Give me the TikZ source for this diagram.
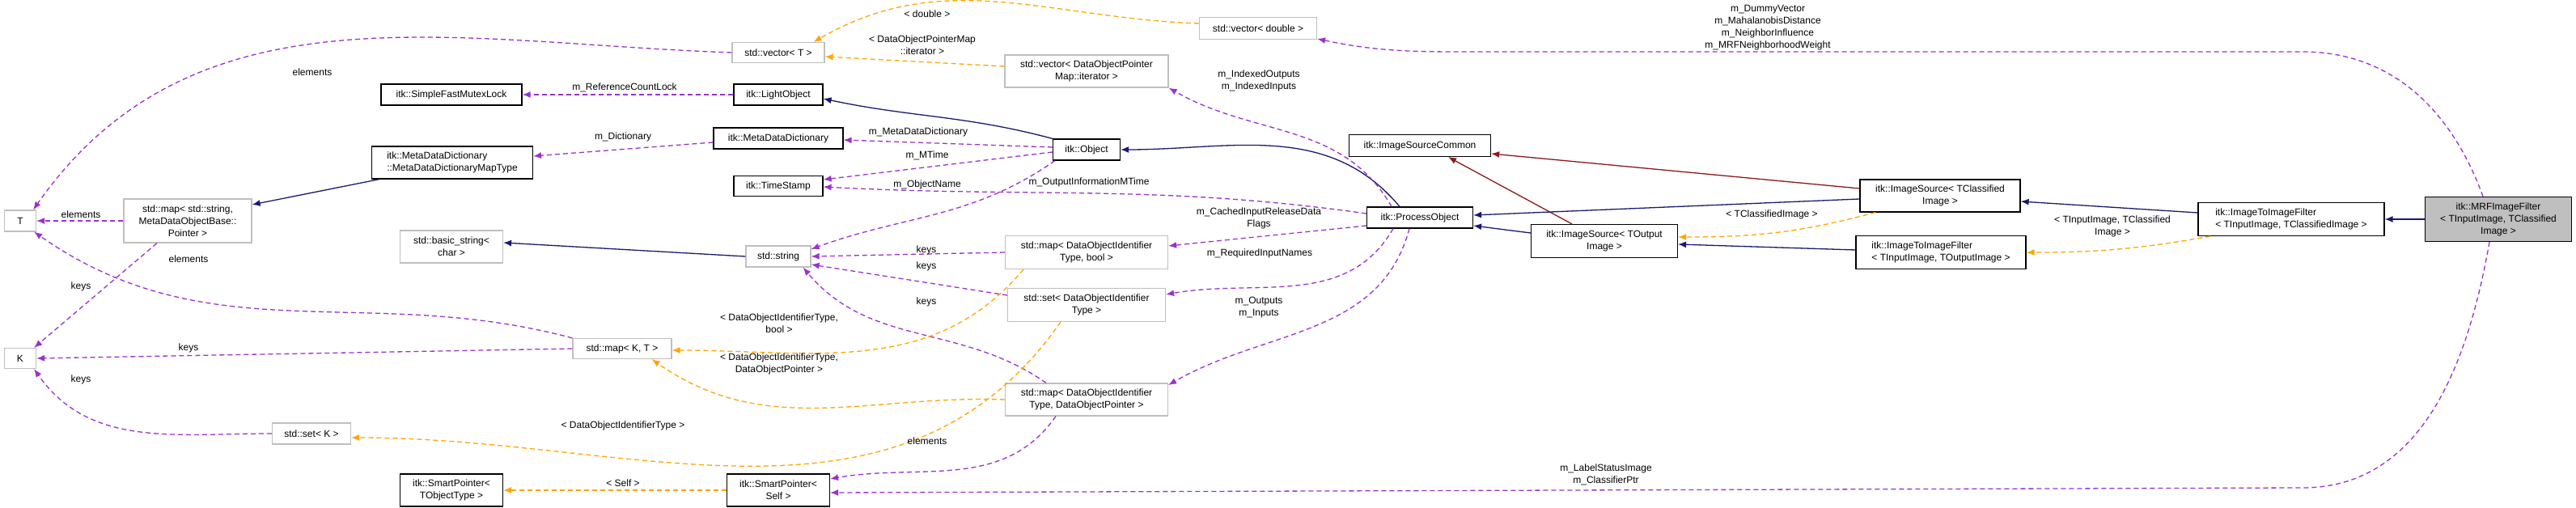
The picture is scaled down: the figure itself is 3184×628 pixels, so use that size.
\documentclass[tikz,border=0pt]{standalone}
\usepackage{fontspec}
\setmainfont{Liberation Sans}
\usetikzlibrary{arrows.meta}
\definecolor{pur}{HTML}{9A32CD}
\definecolor{org}{HTML}{FFA500}
\definecolor{nav}{HTML}{191970}
\definecolor{drd}{HTML}{8B1A1A}
\definecolor{gbd}{gray}{0.75}
\begin{document}
\begin{tikzpicture}[x=1pt,y=-1pt,
  every node/.style={font=\fontsize{12}{15}\selectfont, inner sep=1pt, align=center},
  doc/.style={draw=black, line width=1.2pt, fill=white},
  std/.style={draw=gbd, line width=1.2pt, fill=white},
  tip/.style={-{Latex[length=10pt,width=8pt]}},
  pe/.style={draw=pur, line width=1.3pt, dash pattern=on 6pt off 4pt, tip},
  oe/.style={draw=org, line width=1.3pt, dash pattern=on 6pt off 4pt, tip},
  ne/.style={draw=nav, line width=1.3pt, tip},
  re/.style={draw=drd, line width=1.3pt, tip},
  lb/.style={fill=none}]
\useasboundingbox (0,0) rectangle (3184,628);
\newcommand\bx[7]{\node[#6, minimum width=#4pt, minimum height=#5pt] (#1) at (#2,#3) {#7};}
\bx{vT}{962}{65}{114}{25}{std}{std::vector< T >}
\bx{sfml}{558}{117}{174}{26}{doc}{itk::SimpleFastMutexLock}
\bx{lo}{962}{117}{110}{26}{doc}{itk::LightObject}
\bx{mdd}{962}{171}{160}{26}{doc}{itk::MetaDataDictionary}
\bx{mdmt}{559}{201}{199}{40}{doc,align=left}{itk::MetaDataDictionary\\::MetaDataDictionaryMapType}
\bx{ts}{962}{230}{110}{25}{doc}{itk::TimeStamp}
\bx{T}{25}{273}{39}{26}{std}{T}
\bx{mss}{232}{273}{158}{54}{std}{std::map< std::string,\\ MetaDataObjectBase::\\Pointer >}
\bx{bs}{558}{305}{127}{40}{std}{std::basic\_string<\\char >}
\bx{ss}{962}{317}{80}{26}{std}{std::string}
\bx{K}{25}{443}{39}{25}{std}{K}
\bx{mKT}{769}{431}{122}{25}{std}{std::map< K, T >}
\bx{sK}{385}{536}{97}{26}{std}{std::set< K >}
\bx{spT}{558}{606}{127}{40}{doc}{itk::SmartPointer<\\ TObjectType >}
\bx{spS}{962}{606}{127}{40}{doc}{itk::SmartPointer<\\ Self >}
\bx{vd}{1555}{35}{145}{27}{std}{std::vector< double >}
\bx{vit}{1343}{88}{202}{40}{std}{std::vector< DataObjectPointer\\Map::iterator >}
\bx{obj}{1343}{185}{83}{26}{doc}{itk::Object}
\bx{isc}{1755}{180}{175}{27}{doc}{itk::ImageSourceCommon}
\bx{po}{1755}{269}{131}{26}{doc}{itk::ProcessObject}
\bx{iso}{1983}{298}{181}{41}{doc}{itk::ImageSource< TOutput\\Image >}
\bx{mb}{1343}{312}{201}{41}{std}{std::map< DataObjectIdentifier\\Type, bool >}
\bx{sd}{1343}{377}{195}{41}{std}{std::set< DataObjectIdentifier\\Type >}
\bx{md}{1343}{494}{201}{40}{std}{std::map< DataObjectIdentifier\\Type, DataObjectPointer >}
\bx{isic}{2398}{242}{198}{40}{doc}{itk::ImageSource< TClassified\\Image >}
\bx{itio}{2399}{312}{210}{41}{doc,align=left}{itk::ImageToImageFilter\\< TInputImage, TOutputImage >}
\bx{itic}{2832}{271}{230}{41}{doc,align=left}{itk::ImageToImageFilter\\< TInputImage, TClassifiedImage >}
\bx{mrf}{3088}{271}{181}{55}{doc,fill=gbd}{itk::MRFImageFilter\\< TInputImage, TClassified\\Image >}
% coordinates for long routes
\coordinate (u1) at (2846,64); \coordinate (u2) at (1836,64);
\coordinate (d1) at (2846,603);
% edges
\draw[pe] (vT.west) to[out=178,in=55] ([xshift=-4pt]T.north east);
\draw[pe] (lo.west) -- (sfml.east);
\draw[pe] ([yshift=-5pt]mdd.west) -- ([yshift=8pt]mdmt.east);
\draw[ne] ([xshift=10pt]mdmt.south west) -- ([yshift=20pt]mss.east);
\draw[pe] (mss.west) -- (T.east);
\draw[pe] ([xshift=-38pt]mss.south) -- ([xshift=-3pt]K.north east);
\draw[pe] (mKT.north west) to[out=165,in=-35] ([xshift=-3pt]T.south east);
\draw[pe] (mKT.west) -- (K.east);
\draw[pe] (sK.west) to[out=180,in=-55] ([xshift=-3pt]K.south east);
\draw[ne] (ss.west) -- ([yshift=5pt]bs.east);
\draw[oe] (spS.west) -- (spT.east);
\draw[ne] (obj.north west) to[out=165,in=-12] ([yshift=-5pt]lo.east);
\draw[pe] ([yshift=3pt]obj.west) -- ([yshift=-2pt]mdd.east);
\draw[pe] ([yshift=-3pt]obj.west) -- ([yshift=8pt]ts.east);
\draw[pe] ([xshift=3pt]obj.south west) to[out=-145,in=20] ([yshift=9pt]ss.east);
\draw[pe] ([yshift=5pt]po.west) to[out=172,in=-3] ([yshift=-1pt]ts.east);
\draw[pe] (mb.west) -- (ss.east);
\draw[pe] ([yshift=12pt]sd.west) -- ([yshift=-10pt]ss.east);
\draw[pe] ([xshift=-50pt]md.north) to[out=145,in=-50] ([xshift=-10pt]ss.south east);
\draw[oe] ([xshift=-78pt]mb.south) to[out=-130,in=0] ([yshift=-2pt]mKT.east);
\draw[oe] (md.west) to[out=178,in=-35] ([xshift=-25pt]mKT.south east);
\draw[oe] ([xshift=-32pt]sd.south) to[out=-125,in=0] ([yshift=-5pt]sK.east);
\draw[pe] ([xshift=-38pt]md.south) to[out=-125,in=10] ([yshift=14pt]spS.east);
\draw[oe] ([yshift=6pt]vit.west) -- ([yshift=-5pt]vT.east);
\draw[oe] ([yshift=6pt]vd.west) to[out=178,in=30] ([xshift=-14pt]vT.north east);
\draw[ne] ([xshift=-25pt]po.north) to[out=130,in=0] (obj.east);
\draw[pe] ([xshift=-35pt]po.north) to[out=120,in=-30] (vit.south east);
\draw[pe] ([yshift=-10pt]po.west) -- ([yshift=8pt]mb.east);
\draw[pe] ([xshift=-33pt]po.south) to[out=-120,in=10] ([yshift=13pt]sd.east);
\draw[pe] ([xshift=-13pt]po.south) to[out=-105,in=30] ([yshift=18pt]md.east);
\draw[ne] ([yshift=10pt]iso.west) -- ([yshift=-10pt]po.east);
\draw[re] ([xshift=-40pt]iso.north) -- ([xshift=35pt]isc.south);
\draw[re] ([yshift=9pt]isic.west) -- ([yshift=-10pt]isc.east);
\draw[ne] ([yshift=-4pt]isic.west) -- ([yshift=3pt]po.east);
\draw[oe] ([xshift=-80pt]isic.south) to[out=-165,in=0] ([yshift=5pt]iso.east);
\draw[ne] ([yshift=3pt]itio.west) -- ([yshift=-4pt]iso.east);
\draw[ne] ([yshift=8pt]itic.west) -- ([yshift=-7pt]isic.east);
\draw[oe] ([xshift=-100pt]itic.south) to[out=-170,in=0] (itio.east);
\draw[ne] (mrf.west) -- (itic.east);
\draw[pe] ([xshift=-19pt]mrf.north) to[out=110,in=0] (u1) -- (u2) to[out=180,in=-12] ([yshift=-13pt]vd.east);
\draw[pe] ([xshift=-11pt]mrf.south) to[out=-100,in=0] (d1) -- ([yshift=-3pt]spS.east);
% labels
\node[lb] (l1) at (386,89) {elements};
\node[lb] (l2) at (772,108) {m\_ReferenceCountLock};
\node[lb] (l3) at (770,169) {m\_Dictionary};
\node[lb] (l4) at (100,265) {elements};
\node[lb] (l5) at (100,354) {keys};
\node[lb] (l6) at (233,320) {elements};
\node[lb] (l7) at (233,430) {keys};
\node[lb] (l8) at (100,469) {keys};
\node[lb] (l9) at (770,597) {< Self >};
\node[lb] (l10) at (1146,17) {< double >};
\node[lb] (l11) at (1140,56) {< DataObjectPointerMap\\::iterator >};
\node[lb] (l12) at (1135,163) {m\_MetaDataDictionary};
\node[lb] (l13) at (1146,192) {m\_MTime};
\node[lb] (l14) at (1146,228) {m\_ObjectName};
\node[lb] (l15) at (1346,225) {m\_OutputInformationMTime};
\node[lb] (l16) at (1145,309) {keys};
\node[lb] (l17) at (1145,329) {keys};
\node[lb] (l18) at (1145,373) {keys};
\node[lb] (l19) at (963,400) {< DataObjectIdentifierType,\\bool >};
\node[lb] (l20) at (963,450) {< DataObjectIdentifierType,\\DataObjectPointer >};
\node[lb] (l21) at (770,526) {< DataObjectIdentifierType >};
\node[lb] (l22) at (1146,545) {elements};
\node[lb] (l23) at (1556,100) {m\_IndexedOutputs\\m\_IndexedInputs};
\node[lb] (l24) at (1556,270) {m\_CachedInputReleaseData\\Flags};
\node[lb] (l25) at (1557,313) {m\_RequiredInputNames};
\node[lb] (l26) at (1556,380) {m\_Outputs\\m\_Inputs};
\node[lb] (l27) at (2190,265) {< TClassifiedImage >};
\node[lb] (l28) at (2611,280) {< TInputImage, TClassified\\Image >};
\node[lb] (l29) at (2185,34) {m\_DummyVector\\m\_MahalanobisDistance\\m\_NeighborInfluence\\m\_MRFNeighborhoodWeight};
\node[lb] (l30) at (1985,587) {m\_LabelStatusImage\\m\_ClassifierPtr};
\end{tikzpicture}
\end{document}
